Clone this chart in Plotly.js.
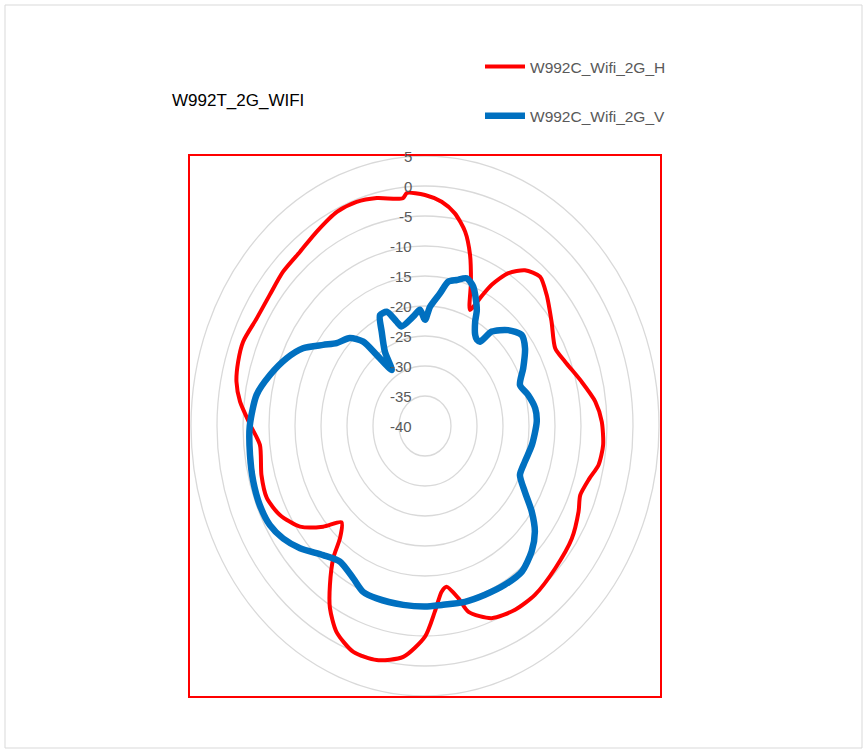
<!DOCTYPE html>
<html>
<head>
<meta charset="utf-8">
<script src="https://cdn.plot.ly/plotly-3.0.1.min.js"></script>
<style>html,body{margin:0;padding:0;background:#fff;}#chart{width:867px;height:750px;}</style>
</head>
<body>
<div id="chart"></div>
<script>
// ---- Data ----
const chartTitle = "W992T_2G_WIFI";
const seriesNames = ["W992C_Wifi_2G_H", "W992C_Wifi_2G_V"];
const ringValues = [5, 0, -5, -10, -15, -20, -25, -30, -35, -40];
const centerValue = -40;

const hAngles = [0, 4.9, 9.2, 13.4, 16.9, 20.2, 24.1, 26.4, 28.6, 32.2, 36.5, 41.6, 47.0, 54.5, 62.6, 68.3, 76.2, 82.9, 88.8, 95.3, 101.0, 105.5, 111.1, 115.8, 123.6, 133.5, 143.1, 150.5, 158.2, 164.9, 167.4, 171.2, 173.4, 176.5, 180, 186.2, 193.4, 200.1, 206.4, 211.1, 214.6, 218.7, 221.2, 225.0, 229.4, 235.1, 242.0, 248.5, 255.4, 264.3, 270, 276.5, 281.5, 286.6, 291.9, 299.0, 306.2, 313.3, 320.4, 327.2, 334.6, 340.6, 346.3, 353.6, 354.9];
const hValues = [-1.5, -2.5, -4.1, -6.7, -10.2, -14.4, -18.8, -16.2, -13.2, -9.9, -7.7, -6.7, -8.0, -10.1, -11.8, -11.0, -9.0, -7.0, -6.0, -5.6, -6.0, -7.2, -8.0, -7.2, -6.1, -5.5, -4.8, -4.8, -5.5, -7.9, -10.6, -12.9, -12.2, -9.0, -4.9, -1.3, 0.1, 0.1, -1.7, -4.6, -7.8, -11.8, -15.2, -17.3, -14.2, -10.7, -8.4, -7.3, -7.5, -8.1, -6.5, -4.2, -3.0, -2.5, -2.3, -3.0, -3.0, -2.5, -2.3, -1.5, -0.5, -0.4, -0.9, -1.8, -1.0];

const vAngles = [0, 2.8, 7.4, 10.6, 14.1, 18.0, 21.8, 27.2, 29.0, 32.4, 34.8, 37.0, 39.2, 45.0, 50.8, 56.0, 63.0, 69.5, 75.4, 82.1, 88.1, 98.8, 107.2, 114.1, 119.7, 124.8, 129.8, 135.6, 142.5, 149.9, 157.7, 165.3, 173.8, 180, 188.0, 197.9, 203.3, 208.5, 215.9, 222.3, 229.7, 235.5, 241.0, 247.5, 254.3, 261.8, 270, 279.1, 285.9, 293.0, 298.9, 304.6, 309.1, 315.4, 319.8, 321.9, 325.6, 328.1, 332.1, 334.9, 338.9, 342.6, 344.8, 353.0, 357.1];
const vValues = [-22.3, -20.1, -17.7, -15.5, -14.9, -14.1, -15.0, -18.2, -20.1, -22.0, -22.5, -22.4, -19.7, -17.4, -16.0, -16.8, -18.8, -20.5, -19.5, -18.6, -18.5, -19.2, -19.9, -20.0, -17.9, -15.0, -12.5, -10.7, -9.4, -9.4, -9.6, -9.7, -10.0, -9.9, -9.9, -9.8, -9.9, -11.1, -12.1, -10.9, -8.5, -6.9, -5.9, -5.6, -5.7, -6.0, -6.3, -7.2, -9.0, -11.1, -13.2, -16.2, -18.1, -19.4, -21.6, -25.0, -28.7, -25.4, -22.2, -19.6, -19.6, -21.8, -22.8, -21.6, -20.6];

// ---- Radar projection (angle clockwise from top, radius = value - center) ----
function project(angles, values) {
  const x = [], y = [];
  for (let i = 0; i < angles.length; i++) {
    const r = values[i] - centerValue;
    const a = angles[i] * Math.PI / 180;
    x.push(r * Math.sin(a));
    y.push(r * Math.cos(a));
  }
  x.push(x[0]); y.push(y[0]);
  return {x, y};
}
const hXY = project(hAngles, hValues);
const vXY = project(vAngles, vValues);

const traces = [
  {type: "scatter", mode: "lines", name: seriesNames[0], x: hXY.x, y: hXY.y,
   line: {color: "#FF0000", width: 4, shape: "spline", smoothing: 0.7},
   legendgroup: "h", hoverinfo: "skip"},
  {type: "scatter", mode: "lines", name: seriesNames[1], x: vXY.x, y: vXY.y,
   line: {color: "#0070C0", width: 6.5, shape: "spline", smoothing: 0.7},
   legendgroup: "v", hoverinfo: "skip"}
];

const maxR = ringValues[0] - centerValue;
const shapes = ringValues.filter(v => v > centerValue).map(v => ({
  type: "circle", xref: "x", yref: "y", layer: "below",
  x0: -(v - centerValue), x1: (v - centerValue), y0: -(v - centerValue), y1: (v - centerValue),
  line: {color: "#D9D9D9", width: 1.3}
}));

// thin outer chart-area border
const L = 190, T = 156, PW = 470, PH = 540;
shapes.push({type: "rect", xref: "paper", yref: "paper", layer: "below",
  x0: (5 - L) / PW, x1: (862 - L) / PW, y0: (T + PH - 748) / PH, y1: (T + PH - 5) / PH,
  line: {color: "#D9D9D9", width: 1}});

const annotations = ringValues.map(v => ({
  x: 0, y: v - centerValue, xref: "x", yref: "y", text: String(v), showarrow: false,
  xanchor: "right", yanchor: "middle", xshift: -11,
  font: {family: "Arial, Liberation Sans, sans-serif", size: 15, color: "#595959"}
}));

const axisCommon = {showgrid: false, zeroline: false, showticklabels: false, ticks: "",
  showline: true, mirror: true, linecolor: "#FF0000", linewidth: 2, fixedrange: true};

const layout = {
  width: 867, height: 750,
  margin: {l: L, r: 867 - L - PW, t: T, b: 750 - T - PH},
  paper_bgcolor: "#FFFFFF", plot_bgcolor: "#FFFFFF",
  title: {text: chartTitle, xref: "container", yref: "container", x: 172 / 867, xanchor: "left",
    y: 1 - 100 / 750, yanchor: "middle",
    font: {family: "Arial, Liberation Sans, sans-serif", size: 17, color: "#000000"}},
  xaxis: Object.assign({range: [-maxR * 235 / 234, maxR * 235 / 234]}, axisCommon),
  yaxis: Object.assign({range: [-maxR, maxR]}, axisCommon),
  showlegend: true,
  legend: {x: (480 - L) / PW, xanchor: "left", y: (T + PH - 50) / PH, yanchor: "top",
    bgcolor: "rgba(0,0,0,0)", traceorder: "grouped", tracegroupgap: 26, itemwidth: 40,
    font: {family: "Arial, Liberation Sans, sans-serif", size: 15.5, color: "#595959"}},
  shapes: shapes,
  annotations: annotations,
  hovermode: false
};

Plotly.newPlot("chart", traces, layout, {staticPlot: true, displayModeBar: false});
</script>
</body>
</html>
